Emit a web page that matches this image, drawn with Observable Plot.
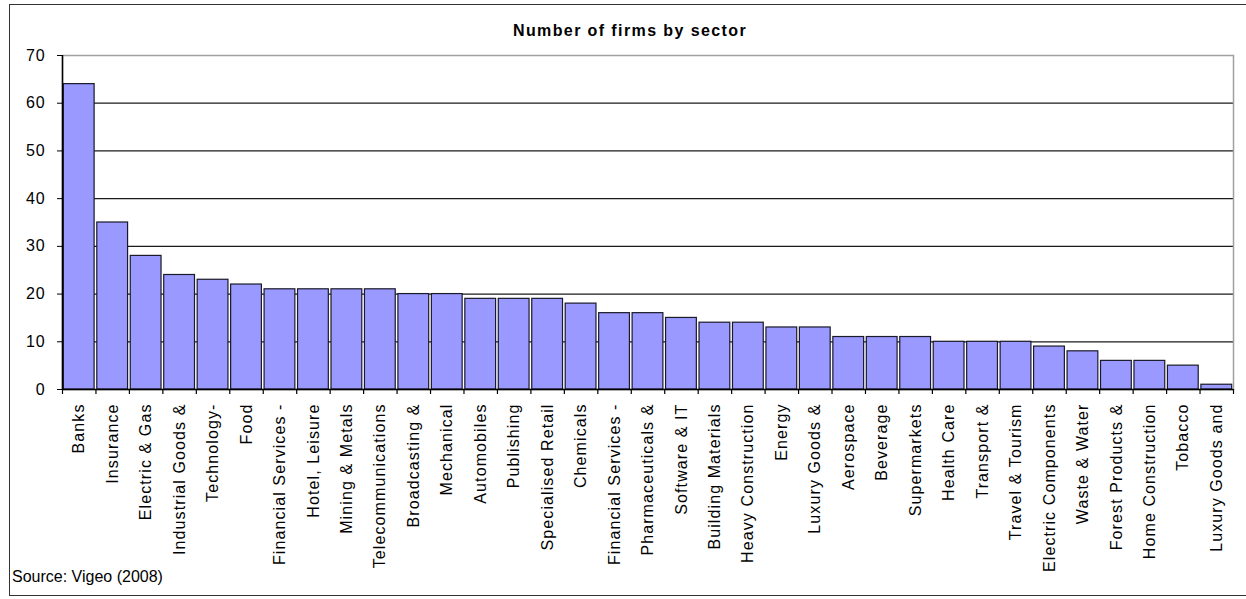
<!DOCTYPE html>
<html>
<head>
<meta charset="utf-8">
<script src="https://cdn.jsdelivr.net/npm/d3@7"></script>
<script src="https://cdn.jsdelivr.net/npm/@observablehq/plot@0.6"></script>
<style>
  html, body { margin: 0; padding: 0; background: #fff; }
  #wrap { position: relative; width: 1246px; height: 599px; overflow: hidden; font-family: "Liberation Sans", Arial, sans-serif; }
  #outer { position: absolute; left: 9px; top: 4px; width: 1250px; height: 592px; border: 1.5px solid #333; box-sizing: border-box; }
  #title { position: absolute; left: 0; width: 1260px; top: 22px; text-align: center; font-weight: bold; font-size: 16px; letter-spacing: 1.4px; color: #000; }
  #caption { position: absolute; left: 12px; top: 568px; font-size: 16px; color: #000; }
  #chart { position: absolute; left: 0; top: 0; }
  #chart g[aria-label="x-axis tick label"] text { letter-spacing: 1.1px; }
  #chart g[aria-label="y-axis tick label"] text { letter-spacing: 0.8px; }
</style>
</head>
<body>
<div id="wrap">
  <div id="outer"></div>
  <div id="chart"></div>
  <div id="title">Number of firms by sector</div>
  <div id="caption">Source: Vigeo (2008)</div>
</div>
<script>
const categories = [
  "Banks", "Insurance", "Electric & Gas", "Industrial Goods &", "Technology-",
  "Food", "Financial Services -", "Hotel, Leisure", "Mining & Metals", "Telecommunications",
  "Broadcasting &", "Mechanical", "Automobiles", "Publishing", "Specialised Retail",
  "Chemicals", "Financial Services -", "Pharmaceuticals &", "Software & IT", "Building Materials",
  "Heavy Construction", "Energy", "Luxury Goods &", "Aerospace", "Beverage",
  "Supermarkets", "Health Care", "Transport &", "Travel & Tourism", "Electric Components",
  "Waste & Water", "Forest Products &", "Home Construction", "Tobacco", "Luxury Goods and"
];
const counts = [
  64, 35, 28, 24, 23,
  22, 21, 21, 21, 21,
  20, 20, 19, 19, 19,
  18, 16, 16, 15, 14,
  14, 13, 13, 11, 11,
  11, 10, 10, 10, 9,
  8, 6, 6, 5, 1
];
const yTicks = [0, 10, 20, 30, 40, 50, 60, 70];

const W = 1246, H = 599, ML = 62, MR = 13, MT = 55, MB = 210;
const idx = categories.map((_, i) => i);
const data = idx.map(i => ({i, label: categories[i], n: counts[i]}));
const step = (W - ML - MR) / categories.length;

const chart = Plot.plot({
  width: W, height: H,
  marginLeft: ML, marginRight: MR, marginTop: MT, marginBottom: MB,
  style: {fontSize: "16px", fontFamily: "'Liberation Sans', Arial, sans-serif", color: "#000", background: "transparent"},
  x: {type: "band", domain: idx, paddingInner: 0.08, paddingOuter: 0.04, round: false, axis: null, label: null},
  y: {domain: [0, 70], axis: null, label: null},
  marks: [
    Plot.ruleY(yTicks.filter(t => t > 0 && t < 70), {stroke: "#1a1a1a", strokeWidth: 1.2}),
    Plot.frame({stroke: "#a0a0a0", strokeWidth: 1.5}),
    Plot.barY(data, {x: "i", y: "n", fill: "#9999ff", stroke: "#1a1a2a", strokeWidth: 1.2}),
    Plot.ruleY([0], {stroke: "#000", strokeWidth: 1.5}),
    Plot.ruleX([0], {x: d => d, dx: -step / 2, y1: 0, y2: 70, stroke: "#000", strokeWidth: 1.5}),
    Plot.ruleX(idx, {x: d => d, dx: -step / 2, y1: 0, y2: 0, insetBottom: -5, stroke: "#000", strokeWidth: 1.2}),
    Plot.ruleX([idx[idx.length - 1]], {x: d => d, dx: step / 2, y1: 0, y2: 0, insetBottom: -5, stroke: "#000", strokeWidth: 1.2}),
    Plot.axisY({ticks: yTicks, tickSize: 5, tickPadding: 12, fontSize: 16, stroke: "#000", label: null}),
    Plot.axisX({tickFormat: i => categories[i], tickRotate: -90, tickSize: 0, tickPadding: 14, fontSize: 16, label: null})
  ]
});
document.getElementById("chart").appendChild(chart);
</script>
</body>
</html>
